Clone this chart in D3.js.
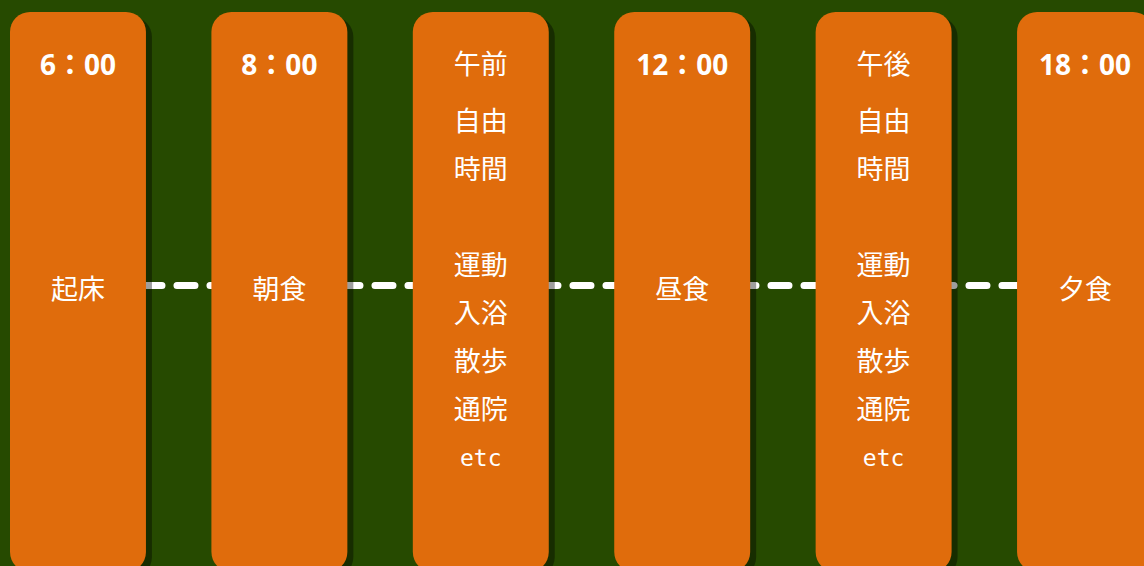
<!DOCTYPE html>
<html>
<head>
<meta charset="utf-8">
<script src="https://cdn.jsdelivr.net/npm/d3@7"></script>
<style>
  html, body { margin: 0; padding: 0; background: #264a00; overflow: hidden; }
  svg { display: block; }
</style>
</head>
<body>
<div id="chart"></div>
<script>
// Schedule cards, left to right
const slots = ["wake", "breakfast", "morning", "lunch", "afternoon", "dinner"];
const headers = ["6：00", "8：00", "午前", "12：00", "午後", "18：00"];
const headerIsTime = [true, true, false, true, false, true];
const freeTime = ["自由", "時間", "", "運動", "入浴", "散歩", "通院", "etc"];
const bodies = [["起床"], ["朝食"], freeTime, ["昼食"], freeTime, ["夕食"]];

const width = 1144, height = 566;
const cardTop = 12, cardBottom = 572, radius = 20;

const svg = d3.select("#chart")
  .append("svg")
  .attr("width", width)
  .attr("height", height);

svg.append("rect")
  .attr("width", width)
  .attr("height", height)
  .attr("fill", "#264a00");

// x: one band per card
const x = d3.scaleBand()
  .domain(slots)
  .range([10, 1153])
  .paddingInner(0.325)
  .paddingOuter(0);

// y for the lines of text inside a multi-line card
const row = d3.scaleLinear()
  .domain([0, freeTime.length - 1])
  .range([122, 458]);

const lineY = 285.5;

// dashed connector between cards
svg.append("line")
  .attr("x1", x(slots[0]) + x.bandwidth() / 2)
  .attr("x2", x(slots[slots.length - 1]) + x.bandwidth() / 2)
  .attr("y1", lineY)
  .attr("y2", lineY)
  .attr("stroke", "#fff")
  .attr("stroke-width", 7)
  .attr("stroke-linecap", "round")
  .attr("stroke-dasharray", "18 15");

const card = svg.selectAll("g.card")
  .data(slots.map((s, i) => ({ key: s, header: headers[i], isTime: headerIsTime[i], body: bodies[i] })))
  .join("g")
  .attr("class", "card")
  .attr("transform", d => `translate(${x(d.key)},0)`);

// shadow
card.append("rect")
  .attr("x", 6)
  .attr("y", cardTop + 5)
  .attr("width", x.bandwidth())
  .attr("height", cardBottom - cardTop)
  .attr("rx", radius)
  .attr("fill", "rgba(0,0,0,0.38)");

card.append("rect")
  .attr("y", cardTop)
  .attr("width", x.bandwidth())
  .attr("height", cardBottom - cardTop)
  .attr("rx", radius)
  .attr("fill", "#e06c0c");

const cx = x.bandwidth() / 2;

card.append("text")
  .attr("x", cx)
  .attr("y", 65)
  .attr("dy", "0.35em")
  .attr("text-anchor", "middle")
  .attr("fill", "#fff")
  .style("font-family", d => d.isTime ? "'Noto Sans', 'Noto Sans CJK JP', sans-serif" : "'Noto Sans CJK JP', sans-serif")
  .style("font-weight", d => d.isTime ? 700 : 400)
  .style("font-size", d => d.isTime ? "28px" : "27px")
  .text(d => d.header);

card.selectAll("text.body")
  .data(d => d.body.map((t, i) => ({ t, i, n: d.body.length })))
  .join("text")
  .attr("class", "body")
  .attr("x", cx)
  .attr("y", d => d.n === 1 ? 290 : row(d.i))
  .attr("dy", "0.35em")
  .attr("text-anchor", "middle")
  .attr("fill", "#fff")
  .style("font-family", d => d.t === "etc" ? "'DejaVu Sans Mono', monospace" : "'Noto Sans CJK JP', sans-serif")
  .style("font-size", d => d.t === "etc" ? "23px" : "27px")
  .text(d => d.t);
</script>
</body>
</html>
